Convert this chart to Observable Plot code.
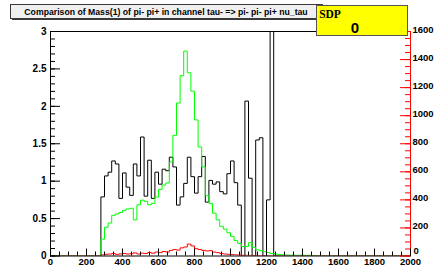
<!DOCTYPE html>
<html><head><meta charset="utf-8">
<script src="https://cdn.jsdelivr.net/npm/d3@7"></script>
<script src="https://cdn.jsdelivr.net/npm/@observablehq/plot@0.6"></script>
<style>
html,body{margin:0;padding:0;background:#fff;}
#chart{width:440px;height:274px;}
</style></head><body><div id="chart"></div>
<script>
// ---- data ----
const binWidth = 20;
const histStart = 280;
const xMax = 2000;
const blackValues = [
 0.79, 1.07, 1.12, 1.27, 1.23, 0.77, 1.11, 0.92, 0.81, 1.23,
 1.07, 1.59, 0.80, 1.28, 0.77, 1.12, 0.96, 1.16, 1.14, 1.32,
 1.19, 0.68, 0.79, 0.97, 1.32, 1.06, 0.84, 1.06, 1.33, 0.72,
 1.01, 0.96, 0.99, 0.86, 0.83, 1.10, 1.27, 0.98, 0.68, 0,
 2.07, 1.04, 0, 1.55, 1.58, 0, 0.75, 3.6
];
const greenValues = [
 120, 205, 235, 290, 300, 310, 325, 335, 340, 258,
 365, 398, 390, 365, 375, 420, 475, 505, 520, 670,
 860, 1090, 1285, 1460, 1306, 1175, 970, 777, 635, 430,
 375, 305, 258, 212, 192, 166, 140, 110, 90, 68,
 68, 95, 62, 44, 38, 30, 24, 18, 14, 11,
 9, 7, 6, 6, 5, 6, 5, 5, 4, 4
];
const redValues = [
 8, 12, 14, 18, 12, 15, 18, 14, 16, 22,
 14, 20, 18, 25, 20, 28, 24, 32, 28, 40,
 46, 42, 58, 64, 85, 72, 52, 46, 40, 36,
 38, 28, 24, 18, 14, 12, 10, 8, 7, 5,
 5, 4, 4, 3, 3, 2, 2, 1, 1
];
const leftRange = [0, 3];
const rightRange = [0, 1600];
const xTicks = [0, 200, 400, 600, 800, 1000, 1200, 1400, 1600, 1800, 2000];
const leftTicks = [0, 0.5, 1, 1.5, 2, 2.5, 3];
const rightTicks = [0, 200, 400, 600, 800, 1000, 1200, 1400, 1600];
const xMinorStep = 50, leftMinorStep = 0.1, rightMinorStep = 50;
const titleText = "Comparison of Mass(1) of pi- pi+ in channel tau- => pi- pi- pi+ nu_tau";
const statsName = "SDP";
const statsValue = "0";

// ---- helpers ----
const toLeft = v => v * leftRange[1] / rightRange[1];
const rightFmt = d => String(Math.round(d * rightRange[1] / leftRange[1]));
function steps(values, f = d => d) {
  const pts = [{x: 0, y: 0}];
  values.forEach((v, i) => pts.push({x: histStart + i * binWidth, y: f(v)}));
  pts.push({x: histStart + values.length * binWidth, y: 0});
  pts.push({x: xMax, y: 0});
  return pts;
}
const xMinor = d3.range(0, xMax + 1e-6, xMinorStep);
const leftMinor = d3.range(0, leftRange[1] + 1e-6, leftMinorStep);
const rightMinor = d3.range(0, rightRange[1] + 1e-6, rightMinorStep).map(toLeft);

const W = 440, H = 274, mL = 50, mR = 30, mT = 31, mB = 18.5;
const fw = W - mL - mR, fh = H - mT - mB;

const plot = Plot.plot({
  width: W, height: H,
  marginLeft: mL, marginRight: mR, marginTop: mT, marginBottom: mB,
  x: {domain: [0, xMax]},
  y: {domain: leftRange},
  style: {fontFamily: "'Liberation Sans', Arial, sans-serif", fontSize: "9.5px", fontWeight: "bold", background: "white", overflow: "visible"},
  marks: [
    Plot.line(steps(blackValues), {x: "x", y: "y", curve: "step-after", stroke: "black", strokeWidth: 1, clip: true}),
    Plot.line(steps(greenValues, toLeft), {x: "x", y: "y", curve: "step-after", stroke: "#00ff00", strokeWidth: 1, clip: true}),
    Plot.line(steps(redValues, toLeft), {x: "x", y: "y", curve: "step-after", stroke: "#ff0000", strokeWidth: 1, clip: true}),
    Plot.frame({stroke: "black", strokeWidth: 1}),
    Plot.ruleX([xMax], {stroke: "#ff0000", strokeWidth: 1}),
    // left ticks
    Plot.tickY(leftMinor, {y: d => d, insetRight: fw - 5, stroke: "black"}),
    Plot.tickY(leftTicks, {y: d => d, insetRight: fw - 10, stroke: "black"}),
    // right ticks
    Plot.tickY(rightMinor, {y: d => d, insetLeft: fw - 5, stroke: "#ff0000"}),
    Plot.tickY(rightTicks.map(toLeft), {y: d => d, insetLeft: fw - 10, stroke: "#ff0000"}),
    // x ticks
    Plot.tickX(xMinor, {x: d => d, insetTop: fh - 4, stroke: "black"}),
    Plot.tickX(xTicks, {x: d => d, insetTop: fh - 7, stroke: "black"}),
    Plot.axisY(leftTicks, {anchor: "left", tickSize: 0, tickPadding: 4, label: null,
      tickFormat: d => String(d), fontSize: 10}),
    Plot.axisY(rightTicks.filter(v => v > 0).map(toLeft), {anchor: "right", tickSize: 0, tickPadding: 2, label: null, dy: -1.5,
      tickFormat: rightFmt}),
    Plot.axisY(rightTicks.filter(v => v === 0).map(toLeft), {anchor: "right", tickSize: 0, tickPadding: 3, label: null, dy: -5,
      tickFormat: rightFmt}),
    Plot.axisX(xTicks, {anchor: "bottom", tickSize: 0, tickPadding: 2.5, label: null,
      tickFormat: d => String(d)})
  ]
});

// ---- title and stats boxes ----
const svg = d3.select(plot);
const tg = svg.append("g");
tg.append("rect").attr("x", 12).attr("y", 6).attr("width", 313).attr("height", 14).attr("fill", "#3a3a3a");
tg.append("rect").attr("x", 10.5).attr("y", 4.5).attr("width", 312).attr("height", 14)
  .attr("fill", "#f0f0f0").attr("stroke", "#3a3a3a").attr("stroke-width", 1);
tg.append("text").attr("x", 166).attr("y", 15).attr("text-anchor", "middle")
  .attr("font-family", "'Liberation Sans', Arial, sans-serif").attr("font-weight", "bold")
  .attr("font-size", "8.7px").attr("fill", "black").text(titleText);

const sg = svg.append("g");
sg.append("rect").attr("x", 316.5).attr("y", 5.5).attr("width", 91).attr("height", 30)
  .attr("fill", "#ffff00").attr("stroke", "#555").attr("stroke-width", 1);
sg.append("text").attr("x", 330).attr("y", 17.5)
  .attr("font-family", "'Liberation Serif', 'Times New Roman', serif").attr("font-weight", "bold")
  .attr("font-size", "11.5px").attr("fill", "black").text(statsName);
sg.append("text").attr("x", 355).attr("y", 33.3).attr("text-anchor", "middle")
  .attr("font-family", "'Liberation Sans', Arial, sans-serif").attr("font-weight", "bold")
  .attr("font-size", "15px").attr("fill", "black").text(statsValue);

document.getElementById("chart").appendChild(plot);
</script>
</body></html>
